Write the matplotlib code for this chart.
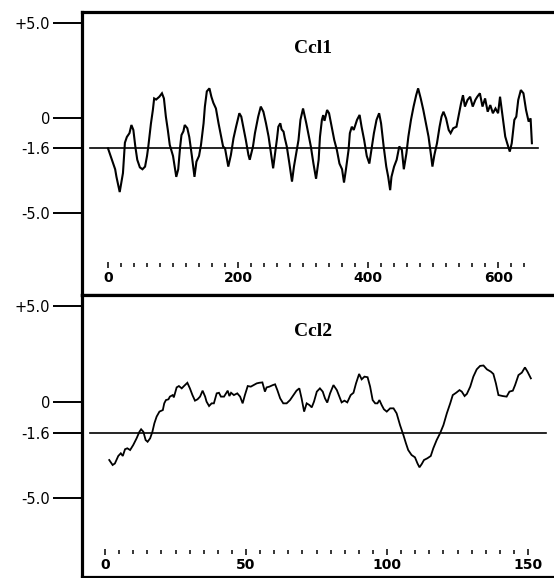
import numpy as np
import matplotlib
matplotlib.use('Agg')
import matplotlib.pyplot as plt

# Ccl1 hydropathy profile (residue position, value)
ccl1_pos = [0, 6, 11, 13, 18, 23, 26, 29, 33, 36, 39, 42, 45, 49, 53, 57, 60, 62, 66, 69,
            71, 74, 79, 83, 86, 89, 92, 95, 100, 105, 108, 111, 113, 116, 118, 122, 125, 129, 133, 136,
            140, 143, 147, 149, 152, 156, 159, 162, 166, 170, 173, 177, 180, 185, 189, 193, 197, 202, 205, 208,
            212, 216, 218, 223, 226, 231, 235, 239, 243, 247, 250, 254, 257, 260, 262, 265, 267, 270, 272, 275,
            279, 283, 286, 289, 293, 296, 300, 305, 308, 312, 316, 320, 324, 326, 329, 331, 333, 337, 340, 344,
            348, 352, 356, 360, 363, 366, 370, 372, 375, 378, 383, 387, 390, 394, 398, 402, 406, 409, 413, 417,
            420, 424, 428, 431, 434, 436, 440, 444, 448, 452, 455, 459, 462, 466, 470, 474, 477, 481, 485, 489,
            493, 497, 499, 502, 506, 510, 513, 516, 520, 524, 527, 531, 536, 539, 543, 546, 549, 553, 557, 561,
            565, 568, 572, 576, 580, 584, 588, 592, 596, 600, 603, 607, 611, 614, 618, 621, 625, 628, 631, 635,
            639, 643, 647, 650, 652]
ccl1_val = [-1.6, -2.2, -2.7, -3.1, -3.9, -2.9, -1.3, -1.0, -0.8, -0.37, -0.63, -1.5, -2.2, -2.6, -2.7, -2.56, -2.0, -1.5, -0.3, 0.42,
            1.03, 0.97, 1.12, 1.3, 1.03, 0.07, -0.63, -1.42, -2.0, -3.1, -2.7, -1.5, -0.9, -0.7, -0.37, -0.54, -1.0, -2.0, -3.1, -2.3,
            -2.0, -1.42, -0.28, 0.6, 1.4, 1.56, 1.12, 0.8, 0.5, -0.28, -0.8, -1.5, -1.6, -2.56, -1.95, -1.07, -0.46, 0.25, 0.07, -0.46,
            -1.16, -1.95, -2.2, -1.5, -0.8, 0.07, 0.6, 0.33, -0.28, -0.98, -1.68, -2.65, -1.86, -1.07, -0.46, -0.28, -0.6, -0.72, -1.07, -1.5,
            -2.4, -3.35, -2.56, -1.95, -1.16, -0.1, 0.5, -0.28, -0.8, -1.5, -2.4, -3.2, -2.2, -1.0, -0.1, 0.15, -0.15, 0.42, 0.25, -0.46,
            -1.16, -1.68, -2.4, -2.7, -3.4, -2.7, -1.68, -0.8, -0.46, -0.63, -0.1, 0.16, -0.46, -1.16, -2.0, -2.4, -1.5, -0.8, -0.1, 0.25,
            -0.28, -1.5, -2.56, -3.1, -3.8, -3.1, -2.56, -2.2, -1.5, -1.68, -2.7, -1.86, -0.98, -0.1, 0.6, 1.2, 1.56, 1.03, 0.42, -0.28,
            -0.98, -2.0, -2.56, -1.95, -1.33, -0.46, 0.07, 0.33, -0.02, -0.63, -0.8, -0.54, -0.46, 0.07, 0.77, 1.2, 0.6, 0.95, 1.12, 0.6,
            0.95, 1.12, 1.3, 0.6, 1.03, 0.33, 0.68, 0.25, 0.5, 0.25, 1.12, 0.07, -0.98, -1.33, -1.77, -1.33, -0.1, 0.07, 0.95, 1.47,
            1.3, 0.42, -0.19, -0.02, -1.33]

# Ccl2 hydropathy profile
ccl2_pos = [1.5, 2.7, 3.5, 4.7, 5.6, 6.3, 7.1, 7.9, 8.9, 10.0, 11.2, 12.2, 12.8, 13.6, 14.4, 15.1, 16.0, 16.8, 17.5, 18.3,
            19.3, 20.5, 21.0, 21.6, 22.5, 23.0, 24.0, 24.4, 25.4, 26.2, 27.2, 28.0, 29.2, 30.1, 31.0, 31.9, 32.8, 33.7, 34.6, 35.5,
            36.0, 36.9, 37.8, 38.6, 39.6, 40.4, 41.1, 42.2, 42.9, 43.5, 44.1, 44.7, 45.7, 46.9, 47.9, 48.8, 49.6, 50.6, 51.7, 52.7,
            53.8, 54.7, 55.8, 56.7, 57.3, 58.3, 59.5, 60.3, 61.1, 62.1, 63.2, 64.4, 65.6, 66.8, 67.9, 68.9, 69.7, 70.6, 71.5, 72.5,
            73.3, 74.1, 75.1, 76.2, 77.2, 78.0, 78.8, 79.8, 81.0, 82.2, 83.1, 83.9, 84.9, 85.9, 87.1, 88.1, 89.0, 90.1, 91.0, 92.0,
            93.1, 94.0, 94.9, 95.8, 96.6, 97.3, 98.1, 98.9, 99.9, 101.1, 102.3, 103.4, 104.6, 105.8, 106.7, 107.5, 108.7, 109.9, 110.8, 111.5,
            112.3, 113.1, 114.3, 115.5, 116.4, 117.6, 118.8, 120.0, 121.2, 122.4, 123.3, 124.5, 125.7, 126.5, 127.5, 128.3, 129.5, 130.6, 131.8, 133.0,
            134.2, 135.4, 136.8, 137.7, 138.6, 139.5, 141.0, 142.4, 143.4, 144.6, 145.4, 146.6, 147.8, 148.9, 149.8, 151.0]
ccl2_val = [-3.02, -3.28, -3.2, -2.81, -2.67, -2.81, -2.46, -2.41, -2.5, -2.24, -1.89, -1.55, -1.42, -1.55, -1.98, -2.07, -1.89, -1.55, -1.11, -0.76,
            -0.5, -0.42, -0.07, 0.1, 0.14, 0.28, 0.36, 0.24, 0.76, 0.83, 0.71, 0.83, 1.0, 0.71, 0.36, 0.07, 0.14, 0.28, 0.59, 0.28,
            0.02, -0.21, -0.07, -0.07, 0.45, 0.48, 0.28, 0.28, 0.45, 0.59, 0.31, 0.48, 0.36, 0.45, 0.28, -0.07, 0.36, 0.83, 0.8, 0.88,
            0.97, 1.0, 1.02, 0.54, 0.76, 0.8, 0.88, 0.92, 0.62, 0.19, -0.07, -0.07, 0.1, 0.36, 0.59, 0.71, 0.19, -0.5, -0.07, -0.16,
            -0.28, 0.02, 0.54, 0.71, 0.54, 0.19, -0.03, 0.45, 0.88, 0.62, 0.28, -0.02, 0.07, -0.02, 0.36, 0.48, 0.97, 1.46, 1.18, 1.32,
            1.29, 0.8, 0.1, -0.07, -0.07, 0.1, -0.16, -0.38, -0.5, -0.33, -0.33, -0.59, -1.2, -1.72, -2.15, -2.5, -2.76, -2.88, -3.2, -3.4,
            -3.23, -3.02, -2.93, -2.81, -2.41, -1.98, -1.63, -1.2, -0.59, -0.07, 0.36, 0.48, 0.62, 0.54, 0.31, 0.42, 0.8, 1.32, 1.7, 1.88,
            1.9, 1.7, 1.58, 1.46, 0.97, 0.36, 0.31, 0.28, 0.54, 0.59, 0.88, 1.4, 1.53, 1.8, 1.58, 1.23]

ytick_vals = [5.0, 0.0, -1.6, -5.0]
ytick_labels = ['+5.0', '0', '-1.6', '-5.0']
cutoff = -1.6

panels = [
    dict(name='Ccl1', pos=ccl1_pos, val=ccl1_val, xlim=(-40, 686), ylim=(-9.32, 5.58),
         major=[0, 200, 400, 600], minor=np.arange(0, 641, 20), cut=(-28, 662),
         tickloc=0.106, rect=[82/554, 283/578, 472/554, 283/578], lw=1.5),
    dict(name='Ccl2', pos=ccl2_pos, val=ccl2_val, xlim=(-8.16, 159.2), ylim=(-9.11, 5.57),
         major=[0, 50, 100, 150], minor=np.arange(0, 151, 5), cut=(-5.3, 156.4),
         tickloc=0.089, rect=[82/554, 1/578, 472/554, 282/578], lw=1.3),
]

fig = plt.figure(figsize=(5.54, 5.78), dpi=100)

for p in panels:
    ax = fig.add_axes(p['rect'])
    ax.plot(p['pos'], p['val'], color='black', lw=p['lw'], solid_joinstyle='miter')
    ax.plot(p['cut'], [cutoff, cutoff], color='black', lw=1.2)
    ax.set_xlim(*p['xlim'])
    ax.set_ylim(*p['ylim'])

    for s in ['left', 'top', 'bottom']:
        ax.spines[s].set_linewidth(2.3)
    ax.spines['right'].set_visible(False)

    ax.set_xticks([])
    ax.set_yticks(ytick_vals)
    ax.set_yticklabels(ytick_labels, fontsize=10.5, family='DejaVu Sans')
    ax.tick_params(axis='y', direction='out', length=21, width=1.4, pad=2)

    sec = ax.secondary_xaxis(p['tickloc'])
    sec.spines['bottom'].set_visible(False)
    sec.set_xticks(p['major'])
    sec.set_xticks(p['minor'], minor=True)
    sec.set_xticklabels([str(m) for m in p['major']], fontsize=10, fontweight='bold',
                        family=['Liberation Sans Narrow', 'DejaVu Sans'])
    sec.tick_params(axis='x', which='major', direction='inout', length=5, width=1.1, pad=2)
    sec.tick_params(axis='x', which='minor', direction='inout', length=2.5, width=1.1)

    ax.text(0.49, 0.872, p['name'], transform=ax.transAxes, ha='center', va='center',
            fontsize=14, fontweight='bold', family='Liberation Serif')

fig.savefig('out.png', dpi=100, facecolor='white')
